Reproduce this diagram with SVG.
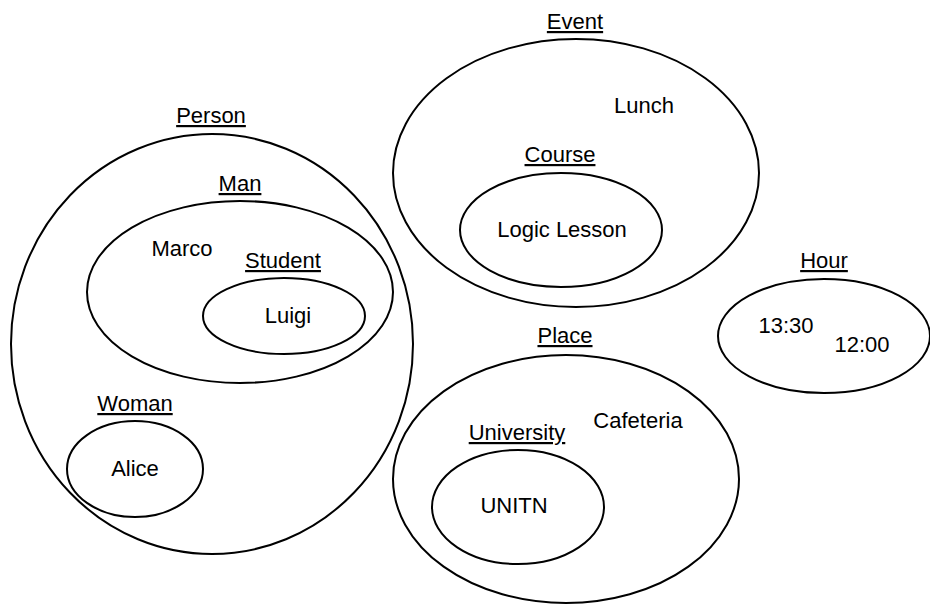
<svg xmlns="http://www.w3.org/2000/svg" width="930" height="606" viewBox="0 0 930 606">
  <style>
    .set { fill: none; stroke: #000; stroke-width: 2; }
    text { font-family: "Liberation Sans", Arial, sans-serif; font-size: 22px; fill: #000; text-anchor: middle; }
    .cls { text-decoration: underline; }
  </style>
  <rect width="930" height="606" fill="#fff"/>

  <!-- Person and its subsets -->
  <g id="person">
    <ellipse class="set" cx="212" cy="344" rx="201" ry="210"/>
    <text class="cls" x="211" y="123">Person</text>
  </g>
  <g id="man">
    <ellipse class="set" cx="240" cy="292" rx="153" ry="91"/>
    <text class="cls" x="240" y="191">Man</text>
    <text x="182" y="256">Marco</text>
  </g>
  <g id="student">
    <ellipse class="set" cx="284" cy="316" rx="81" ry="38"/>
    <text class="cls" x="283" y="268">Student</text>
    <text x="288" y="323">Luigi</text>
  </g>
  <g id="woman">
    <ellipse class="set" cx="135" cy="469" rx="68" ry="48"/>
    <text class="cls" x="135" y="411">Woman</text>
    <text x="135" y="476">Alice</text>
  </g>

  <!-- Event and Course -->
  <g id="event">
    <ellipse class="set" cx="576" cy="173" rx="183" ry="134"/>
    <text class="cls" x="575" y="29">Event</text>
    <text x="644" y="113">Lunch</text>
  </g>
  <g id="course">
    <ellipse class="set" cx="561" cy="230" rx="101" ry="57"/>
    <text class="cls" x="560" y="162">Course</text>
    <text x="562" y="237">Logic Lesson</text>
  </g>

  <!-- Hour -->
  <g id="hour">
    <ellipse class="set" cx="824" cy="336" rx="106" ry="57"/>
    <text class="cls" x="824" y="268">Hour</text>
    <text x="786" y="333">13:30</text>
    <text x="862" y="352">12:00</text>
  </g>

  <!-- Place and University -->
  <g id="place">
    <ellipse class="set" cx="566" cy="479" rx="173" ry="124"/>
    <text class="cls" x="565" y="343">Place</text>
    <text x="638" y="428">Cafeteria</text>
  </g>
  <g id="university">
    <ellipse class="set" cx="518" cy="507" rx="86" ry="57"/>
    <text class="cls" x="517" y="440">University</text>
    <text x="514" y="513">UNITN</text>
  </g>

  <g id="connectors"/>
</svg>
